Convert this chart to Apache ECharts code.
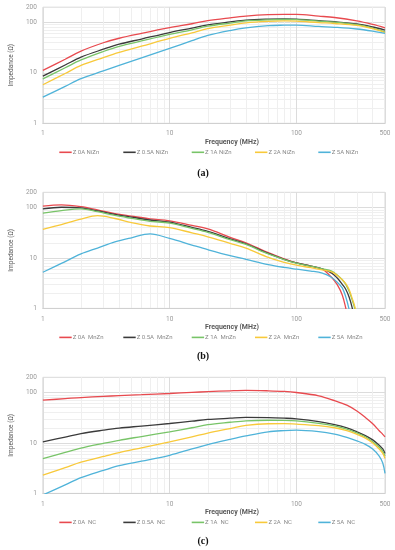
<!DOCTYPE html>
<html><head><meta charset="utf-8">
<script src="https://cdn.jsdelivr.net/npm/echarts@6/dist/echarts.min.js"></script>
<style>html,body{margin:0;padding:0;background:#fff}#c{width:395px;height:550px}</style>
</head><body><div id="c"></div>
<script>
// ---------- data ----------
const xLabelValues = [1, 10, 100, 500];
const xMinorValues = [2,3,4,5,6,7,8,9,20,30,40,50,60,70,80,90,200,300,400];
const yLabelValues = [1, 10, 100, 200];
const yMajorValues = [1, 10, 100];
const yMinorValues = [2,3,4,5,6,7,8,9,20,30,40,50,60,70,80,90];

const seriesColors = ['#E84A4F', '#3B3B3B', '#78C468', '#F8C93A', '#4FB3D9'];

// (a) NiZn
const freqA = [1, 1.5, 2, 3, 4, 6, 10, 15, 20, 30, 40, 60, 80, 100, 150, 200, 300, 400, 500];
const namesA = ['Z 0A NiZn', 'Z 0.5A NiZn', 'Z 1A NiZn', 'Z 2A NiZn', 'Z 5A NiZn'];
const a_0A   = [11.2, 18.6, 27, 39.5, 48.5, 60.5, 78.5, 94, 108, 123, 133, 142, 144, 144, 133, 125, 107, 91, 78];
const a_05A  = [8.6, 14.3, 20.5, 29.4, 37, 46.8, 63, 77, 89, 102, 111, 116, 117, 116, 108, 103, 93, 81, 70.5];
const a_1A   = [7.6, 12.6, 18, 26.5, 33.5, 42.8, 57.7, 71.4, 84, 97, 107, 112, 114, 113, 106, 101, 90, 77, 65];
const a_2A   = [5.8, 9.7, 14, 20.1, 25.5, 33.7, 48, 62.2, 75, 88, 98, 105, 107, 106, 99, 95, 87, 75, 63];
const a_5A   = [3.3, 5.4, 7.7, 10.9, 14, 19.8, 30.5, 43.4, 55, 69, 78, 86, 88, 88.5, 83, 80, 74, 67, 60.5];

// (b) MnZn
const freqB = [1, 1.4, 2, 2.7, 3.7, 5, 7, 10, 15, 20, 30, 40, 60, 80, 100, 130, 160, 190, 210, 230, 245, 260, 275, 290, 305];
const namesB = ['Z 0A  MnZn', 'Z 0.5A  MnZn', 'Z 1A  MnZn', 'Z 2A  MnZn', 'Z 5A  MnZn'];
const b_0A   = [106, 113, 104, 89.5, 75.5, 67.3, 59.5, 54.5, 44, 37.5, 25.6, 20, 12.7, 9.6, 8.0, 6.9, 6.0, 4.1, 2.95, 1.85, 1.02, 0.5, null, null, null];
const b_05A  = [94, 101, 98.5, 85.5, 73, 64.5, 56.5, 51.2, 40.2, 33.5, 24, 19.1, 12.3, 9.4, 7.95, 6.9, 6.05, 5.0, 4.0, 3.0, 2.4, 1.7, 1.05, 0.55, null];
const b_1A   = [77, 87, 94, 82.5, 69.5, 61, 53.3, 49, 38.4, 32, 23.1, 18.5, 12, 9.3, 7.9, 6.85, 6.1, 5.5, 4.6, 3.7, 3.0, 2.2, 1.5, 0.95, 0.5];
const b_2A   = [36.7, 46, 59, 69, 60.5, 50, 43, 40, 31.4, 26.3, 19.4, 15.6, 10.3, 8.2, 7.2, 6.4, 5.8, 5.3, 4.5, 3.7, 3.1, 2.4, 1.6, 1.05, 0.55];
const b_5A   = [5.2, 7.8, 12, 15.7, 20.8, 25.1, 30, 24.3, 18, 14.6, 11.1, 9.4, 7.4, 6.5, 6.0, 5.5, 5.0, 4.1, 3.3, 2.55, 1.7, 0.98, 0.5, null, null];

// (c) NC
const freqC = [1, 1.5, 2, 3, 4, 6, 10, 15, 20, 30, 40, 60, 80, 100, 150, 200, 250, 300, 350, 400, 450, 480, 500];
const namesC = ['Z 0A  NC', 'Z 0.5A  NC', 'Z 1A  NC', 'Z 2A  NC', 'Z 5A  NC'];
const c_0A   = [70.5, 75.5, 79.4, 83.6, 86.7, 90.4, 95.5, 100.5, 104, 108, 110, 108, 105, 100, 86, 69, 56, 43, 32, 24, 17.5, 14.8, 13.2];
const c_05A  = [10.5, 13.1, 15.3, 17.9, 19.7, 21.6, 24.3, 27, 29.2, 30.9, 32, 31.8, 31, 30, 26.5, 23, 19.8, 16.6, 14, 11.5, 9, 7.6, 6.2];
const c_1A   = [4.9, 6.5, 7.9, 9.8, 11.3, 13.4, 16.6, 20, 23, 25.7, 27.5, 28.2, 28.1, 27.5, 24.5, 21.8, 18.8, 15.8, 13.3, 10.6, 8.2, 6.8, 5.5];
const c_2A   = [2.3, 3.24, 4.15, 5.4, 6.45, 8.0, 10.5, 13.2, 15.7, 19.3, 22.3, 24, 24.1, 23.6, 22, 20, 17.5, 14.8, 12.5, 10, 7.6, 6.2, 4.9];
const c_5A   = [0.93, 1.48, 2.05, 2.85, 3.55, 4.35, 5.7, 7.6, 9.3, 11.8, 13.8, 16.6, 17.6, 18, 16.8, 15, 12.9, 11, 9.4, 7.6, 5.5, 4.0, 2.5];

const captions = ['(a)', '(b)', '(c)'];
const xTitle = 'Frequency (MHz)';
const yTitle = 'Impedance (Ω)';

// ---------- build ----------
const panels = [
  { freq: freqA, names: namesA, vals: [a_0A, a_05A, a_1A, a_2A, a_5A] },
  { freq: freqB, names: namesB, vals: [b_0A, b_05A, b_1A, b_2A, b_5A] },
  { freq: freqC, names: namesC, vals: [c_0A, c_05A, c_1A, c_2A, c_5A] }
];
const tops = [7.2, 192.3, 377.3];
const plotH = 116.1;
const legendLefts = [59.3, 123.3, 191.7, 255, 318.3];
const FONT = '"Liberation Sans Narrow", "Roboto", sans-serif';

const grid = [], xAxis = [], yAxis = [], series = [], legend = [], graphic = [];
panels.forEach((p, i) => {
  grid.push({ left: 40.3, right: 10, top: tops[i], height: plotH, show: true, borderColor: '#d9d9d9', borderWidth: 1, containLabel: false });
  // minor axes (index 2*i)
  xAxis.push({
    type: 'log', gridIndex: i, min: 1, max: 500, logBase: 10, position: 'bottom',
    axisLine: { show: false }, axisLabel: { show: false },
    axisTick: { show: false, customValues: xMinorValues },
    splitLine: { show: true, lineStyle: { color: '#efefef', width: 1 } }
  });
  yAxis.push({
    type: 'log', gridIndex: i, min: 1, max: 200, logBase: 10, position: 'left',
    axisLine: { show: false }, axisLabel: { show: false },
    axisTick: { show: false, customValues: yMinorValues },
    splitLine: { show: true, lineStyle: { color: '#efefef', width: 1 } }
  });
  // major axes (index 2*i+1)
  xAxis.push({
    type: 'log', gridIndex: i, min: 1, max: 500, logBase: 10, position: 'bottom',
    axisLine: { show: true, lineStyle: { color: '#d0d0d0' } },
    axisTick: { show: false, customValues: xLabelValues },
    axisLabel: { customValues: xLabelValues, fontSize: 6.5, color: '#9a9a9a', margin: 7, fontFamily: FONT },
    splitLine: { show: true, lineStyle: { color: '#dcdcdc', width: 1 } },
    name: xTitle, nameLocation: 'middle', nameGap: 15.5,
    nameTextStyle: { fontSize: 7, fontWeight: 'bold', color: '#595959', fontFamily: FONT, padding: [0, 0, 0, 36] }
  });
  yAxis.push({
    type: 'log', gridIndex: i, min: 1, max: 200, logBase: 10, position: 'left',
    axisLine: { show: false },
    axisTick: { show: false, customValues: yMajorValues },
    axisLabel: { customValues: yLabelValues, fontSize: 6.5, color: '#9a9a9a', margin: 6, fontFamily: FONT },
    splitLine: { show: true, lineStyle: { color: '#dcdcdc', width: 1 } },
    name: yTitle, nameLocation: 'middle', nameGap: 25, nameRotate: 90,
    nameTextStyle: { fontSize: 6.5, color: '#595959', fontFamily: FONT }
  });
  const bottom = tops[i] + plotH;
  p.names.forEach((nm, k) => {
    series.push({
      name: nm, type: 'line', xAxisIndex: 2 * i + 1, yAxisIndex: 2 * i + 1,
      data: p.freq.map((f, j) => [f, p.vals[k][j]]),
      showSymbol: false, smooth: 0.35, clip: true, connectNulls: false,
      color: seriesColors[k], lineStyle: { width: 1.3, color: seriesColors[k] },
      emphasis: { disabled: true }, animation: false
    });
    legend.push({
      data: [nm], left: legendLefts[k], top: bottom + 26, icon: 'rect', itemWidth: 12.4, itemHeight: 1.6,
      selectedMode: false, padding: 0,
      textStyle: { fontSize: 6, color: '#8a8a8a', fontFamily: FONT, padding: [0, 0, 0, -4] }
    });
  });
  graphic.push({
    type: 'text', x: 203, y: bottom + [49.7, 47.7, 47.7][i],
    style: { text: captions[i], font: 'bold 10px "Liberation Serif", "DejaVu Serif", serif', fill: '#111', textAlign: 'center', textVerticalAlign: 'middle' }
  });
});

const chart = echarts.init(document.getElementById('c'), null, { renderer: 'canvas' });
chart.setOption({ animation: false, backgroundColor: '#fff', grid, xAxis, yAxis, series, legend, graphic });
</script>
</body></html>
